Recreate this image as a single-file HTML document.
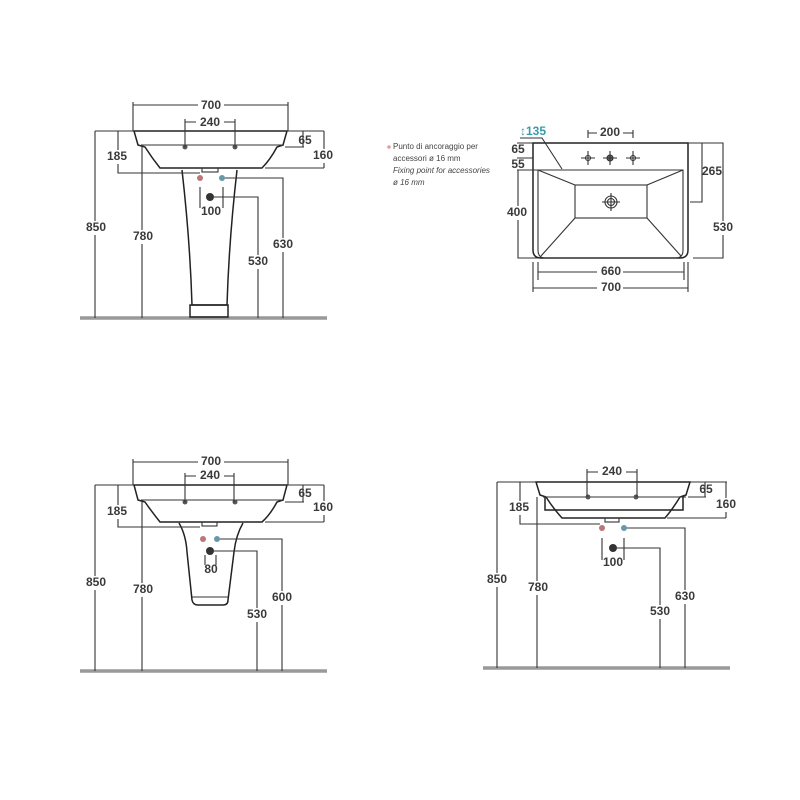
<!DOCTYPE html>
<html><head><meta charset="utf-8"><style>
html,body{margin:0;padding:0;background:#fff;}
svg{display:block;}
text{font-family:"Liberation Sans",sans-serif;font-size:12px;font-weight:bold;fill:#3a3a3a;text-anchor:middle;dominant-baseline:middle;}
.l{stroke:#333;stroke-width:1.1;fill:none;}
.s{stroke:#222;stroke-width:1.5;fill:none;}
.f{stroke:#999;stroke-width:3.5;}
.bg{fill:#fff;}
.sm{font-size:8px;font-weight:normal;text-anchor:start;fill:#444;}
</style></head><body>
<svg width="800" height="800" viewBox="0 0 800 800">
<!-- ========== Q1 pedestal ========== -->
<g>
<line class="f" x1="80" y1="318" x2="327" y2="318"/>
<path class="s" d="M134 131 L287 131 L283 145 L277 147 Q270 160 262 168 L160 168 Q152 158 145 147 L138 145 Z"/>
<line class="l" x1="141" y1="145" x2="284" y2="145"/>
<path class="s" d="M182 170 Q190 240 192 305 L227 305 Q229 240 237 170"/>
<rect class="s" x="190" y="305" width="38" height="12"/>
<rect class="l" x="202" y="168" width="16" height="4"/>
<circle cx="185" cy="147" r="2.5" fill="#555"/><circle cx="235" cy="147" r="2.5" fill="#555"/>
<circle cx="200" cy="178" r="3" fill="#b77"/><circle cx="222" cy="178" r="3" fill="#69a"/>
<circle cx="210" cy="197" r="4" fill="#333"/>
<path class="l" d="M133 105 H288 M133 102 V131 M288 102 V131"/>
<path class="l" d="M185 122 H235 M185 119 V147 M235 119 V147"/>
<rect class="bg" x="198" y="100" width="26" height="11"/><text x="211" y="106">700</text>
<rect class="bg" x="196" y="117" width="28" height="11"/><text x="210" y="123">240</text>
<path class="l" d="M95 131 H134 M95 131 V318"/>
<rect class="bg" x="85" y="221" width="22" height="14"/><text x="96" y="228">850</text>
<path class="l" d="M142 145 V318"/>
<rect class="bg" x="131" y="230" width="24" height="14"/><text x="143" y="237">780</text>
<path class="l" d="M118 131 V173 H200"/>
<rect class="bg" x="106" y="150" width="24" height="14"/><text x="117" y="157">185</text>
<path class="l" d="M287 131 H324 M285 147 H304 M303 131 V147 M324 131 V168 M265 168 H324"/>
<text x="305" y="141">65</text>
<rect class="bg" x="311" y="149" width="24" height="14"/><text x="323" y="156">160</text>
<path class="l" d="M225 178 H283 V318"/>
<rect class="bg" x="271" y="238" width="24" height="14"/><text x="283" y="245">630</text>
<path class="l" d="M214 197 H258 V318"/>
<rect class="bg" x="246" y="255" width="24" height="14"/><text x="258" y="262">530</text>
<path class="l" d="M200 187 V208 M223 187 V208"/>
<text x="211" y="212">100</text>
</g>
<!-- ========== Q3 half pedestal ========== -->
<g>
<line class="f" x1="80" y1="671" x2="327" y2="671"/>
<path class="s" d="M134 485 L287 485 L283 500 L277 502 Q270 515 262 522 L160 522 Q152 512 145 502 L138 500 Z"/>
<line class="l" x1="141" y1="500" x2="284" y2="500"/>
<path class="s" d="M179 523 Q186 535 187 552 L192 600 Q193 605 198 605 L223 605 Q228 605 228 600 L234 552 Q236 535 243 523"/>
<line class="l" x1="192" y1="597" x2="228" y2="597"/>
<rect class="l" x="202" y="522" width="15" height="4"/>
<circle cx="185" cy="502" r="2.5" fill="#555"/><circle cx="235" cy="502" r="2.5" fill="#555"/>
<circle cx="203" cy="539" r="3" fill="#b77"/><circle cx="217" cy="539" r="3" fill="#69a"/>
<circle cx="210" cy="551" r="4" fill="#333"/>
<path class="l" d="M133 462 H288 M133 459 V485 M288 459 V485"/>
<path class="l" d="M185 476 H234 M185 473 V502 M234 473 V502"/>
<rect class="bg" x="198" y="456" width="26" height="11"/><text x="211" y="462">700</text>
<rect class="bg" x="196" y="470" width="28" height="11"/><text x="210" y="476">240</text>
<path class="l" d="M95 485 H134 M95 485 V671"/>
<rect class="bg" x="85" y="576" width="22" height="14"/><text x="96" y="583">850</text>
<path class="l" d="M142 502 V671"/>
<rect class="bg" x="131" y="583" width="24" height="14"/><text x="143" y="590">780</text>
<path class="l" d="M118 485 V527 H200"/>
<rect class="bg" x="106" y="505" width="24" height="14"/><text x="117" y="512">185</text>
<path class="l" d="M287 485 H324 M285 502 H304 M303 485 V502 M324 485 V522 M265 522 H324"/>
<text x="305" y="494">65</text>
<rect class="bg" x="311" y="501" width="24" height="14"/><text x="323" y="508">160</text>
<path class="l" d="M220 539 H282 V671"/>
<rect class="bg" x="270" y="591" width="24" height="14"/><text x="282" y="598">600</text>
<path class="l" d="M214 551 H257 V671"/>
<rect class="bg" x="245" y="608" width="24" height="14"/><text x="257" y="615">530</text>
<path class="l" d="M205 555 V565 M216 555 V565"/>
<text x="211" y="570">80</text>
</g>
<!-- ========== Q4 wall hung ========== -->
<g>
<line class="f" x1="483" y1="668" x2="730" y2="668"/>
<path class="s" d="M536 482 L690 482 L686 495 L680 497 Q672 510 665 518 L562 518 Q553 508 546 497 L540 495 Z"/>
<line class="l" x1="543" y1="497" x2="686" y2="497"/>
<path class="s" d="M545 497 V510 H683 V497"/>
<rect class="l" x="605" y="518" width="14" height="4"/>
<circle cx="588" cy="497" r="2.5" fill="#555"/><circle cx="636" cy="497" r="2.5" fill="#555"/>
<circle cx="602" cy="528" r="3" fill="#b77"/><circle cx="624" cy="528" r="3" fill="#69a"/>
<circle cx="613" cy="548" r="4" fill="#333"/>
<path class="l" d="M587 472 H637 M587 469 V497 M637 469 V497"/>
<rect class="bg" x="598" y="466" width="28" height="11"/><text x="612" y="472">240</text>
<path class="l" d="M497 482 H536 M497 482 V668"/>
<rect class="bg" x="486" y="573" width="22" height="14"/><text x="497" y="580">850</text>
<path class="l" d="M537 497 V668"/>
<rect class="bg" x="526" y="581" width="24" height="14"/><text x="538" y="588">780</text>
<path class="l" d="M520 482 V524 H600"/>
<rect class="bg" x="508" y="501" width="24" height="14"/><text x="519" y="508">185</text>
<path class="l" d="M690 482 H727 M688 497 H706 M705 482 V497 M726 482 V518 M667 518 H726"/>
<text x="706" y="490">65</text>
<rect class="bg" x="714" y="498" width="24" height="14"/><text x="726" y="505">160</text>
<path class="l" d="M627 528 H685 V668"/>
<rect class="bg" x="673" y="590" width="24" height="14"/><text x="685" y="597">630</text>
<path class="l" d="M617 548 H660 V668"/>
<rect class="bg" x="648" y="605" width="24" height="14"/><text x="660" y="612">530</text>
<path class="l" d="M602 538 V560 M624 538 V560"/>
<text x="613" y="563">100</text>
</g>
<!-- ========== Q2 top view ========== -->
<g>
<circle cx="389" cy="147" r="1.8" fill="#e99"/>
<text class="sm" x="393" y="147">Punto di ancoraggio per</text>
<text class="sm" x="393" y="159">accessori ø 16 mm</text>
<text class="sm" x="393" y="171" font-style="italic">Fixing point for accessories</text>
<text class="sm" x="393" y="183" font-style="italic">ø 16 mm</text>
<path class="s" d="M533 143 H688 V250 Q688 258 680 258 H541 Q533 258 533 250 Z"/>
<path class="l" d="M538 170 H683 V250 Q683 258 676 258 H545 Q538 258 538 250 Z"/>
<rect class="l" x="575" y="185" width="72" height="33"/>
<path class="l" d="M538 170 L575 185 M683 170 L647 185 M541 256 L575 218 M681 256 L647 218"/>
<circle cx="611" cy="202" r="6" class="l"/><circle cx="611" cy="202" r="3.5" class="l"/>
<path class="l" d="M611 193 V211 M602 202 H620"/>
<g class="l">
<circle cx="588" cy="158" r="2.5"/><path d="M588 151 V165 M581 158 H595"/>
<circle cx="610" cy="158" r="3" fill="#666"/><path d="M610 151 V165 M603 158 H617"/>
<circle cx="633" cy="158" r="2.5"/><path d="M633 151 V165 M626 158 H640"/>
</g>
<text x="533" y="132" style="fill:#3a9aad">↕135</text>
<path class="l" d="M520 138 H542 L562 169"/>
<path class="l" d="M588 133 H633 M588 130 V138 M633 130 V138"/>
<rect class="bg" x="597" y="127" width="26" height="11"/><text x="610" y="133">200</text>
<path class="l" d="M517 143 H533 M517 158 H533 M517 170 H538 M518 170 V258 H538"/>
<text x="518" y="150">65</text><text x="518" y="165">55</text>
<rect class="bg" x="506" y="206" width="24" height="14"/><text x="517" y="213">400</text>
<path class="l" d="M688 143 H702 V202 H690"/>
<text x="712" y="172">265</text>
<path class="l" d="M688 143 H723 V258 H693"/>
<rect class="bg" x="711" y="221" width="24" height="14"/><text x="723" y="228">530</text>
<path class="l" d="M538 262 V280 M684 262 V280 M538 272 H684"/>
<rect class="bg" x="597" y="266" width="26" height="12"/><text x="611" y="272">660</text>
<path class="l" d="M533 262 V292 M688 262 V292 M533 288 H688"/>
<rect class="bg" x="597" y="282" width="26" height="12"/><text x="611" y="288">700</text>
</g>
</svg>
</body></html>
